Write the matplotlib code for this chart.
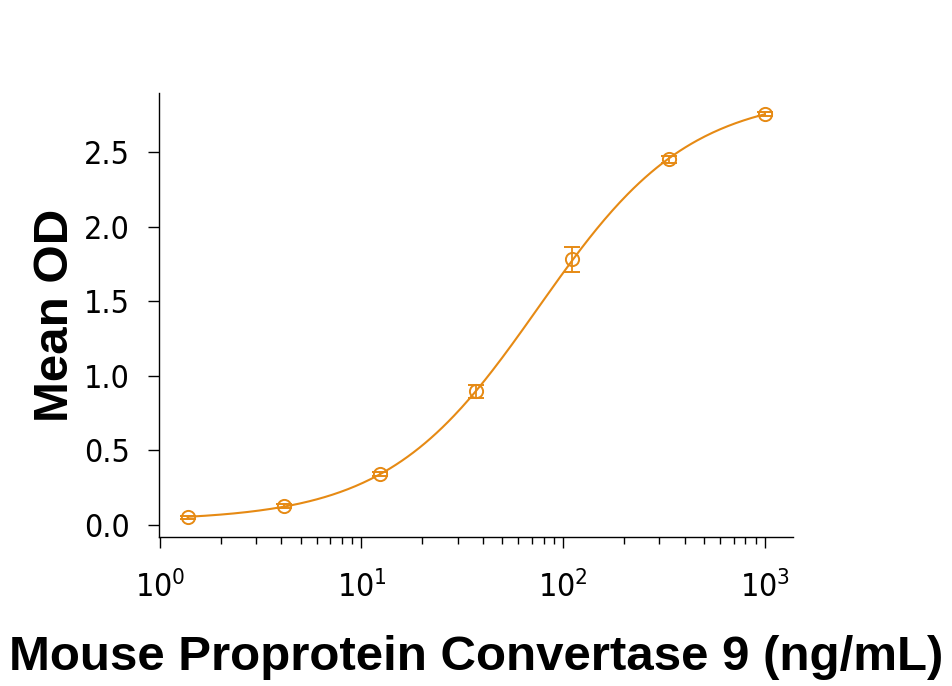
import numpy as np
import matplotlib
matplotlib.use('Agg')
import matplotlib.pyplot as plt
from matplotlib.ticker import FixedLocator, LogLocator, FuncFormatter, NullFormatter

# data (3-fold dilution series)
conc = [1.372, 4.115, 12.35, 37.04, 111.1, 333.3, 1000.0]
mean_od = [0.052, 0.127, 0.342, 0.895, 1.78, 2.45, 2.755]
od_err = [0.010, 0.012, 0.015, 0.045, 0.085, 0.025, 0.015]
y_ticks = [0.0, 0.5, 1.0, 1.5, 2.0, 2.5]

color = '#E68A14'
label_font = ['Liberation Sans', 'Arial', 'DejaVu Sans']

plt.rcParams['mathtext.fontset'] = 'custom'
plt.rcParams['mathtext.rm'] = 'DejaVu Sans:stretch=condensed'
plt.rcParams['mathtext.it'] = 'DejaVu Sans:stretch=condensed'
plt.rcParams['mathtext.bf'] = 'DejaVu Sans:stretch=condensed'


def four_pl(p, x):
    a, b, logc, d = p
    return d + (a - d) / (1.0 + (x / 10**logc)**b)


def fit_four_pl(x, y):
    # small Levenberg-Marquardt loop, numpy only
    x = np.asarray(x)
    y = np.asarray(y)
    p = np.array([0.03, 1.3, 1.9, 2.9])
    lam = 1e-2
    for _ in range(500):
        r = y - four_pl(p, x)
        J = np.zeros((len(x), len(p)))
        for k in range(len(p)):
            dp = np.zeros_like(p)
            dp[k] = 1e-6
            J[:, k] = (four_pl(p + dp, x) - four_pl(p - dp, x)) / 2e-6
        A = J.T @ J
        step = np.linalg.solve(A + lam * np.diag(np.diag(A)), J.T @ r)
        p_new = p + step
        if np.sum((y - four_pl(p_new, x))**2) < np.sum(r**2):
            p = p_new
            lam *= 0.5
        else:
            lam *= 4
    return p


params = fit_four_pl(conc, mean_od)
xs = np.logspace(np.log10(conc[0]), np.log10(conc[-1]), 300)

fig = plt.figure(figsize=(9.53, 6.86), dpi=100)
ax = fig.add_axes([0.1668, 0.2172, 0.6653, 0.6472])

ax.plot(xs, four_pl(params, xs), color=color, lw=1.5, zorder=2)
ax.errorbar(conc, mean_od, yerr=od_err, fmt='o', ms=9.5, mfc='none', mec=color,
            mew=1.4, ecolor=color, elinewidth=1.3, capsize=5.8, capthick=1.3,
            zorder=3)

ax.set_xscale('log')
ax.set_xlim(0.99, 1380)
ax.set_ylim(-0.08, 2.895)

ax.xaxis.set_major_locator(FixedLocator([1, 10, 100, 1000]))
ax.xaxis.set_minor_locator(LogLocator(base=10, subs=np.arange(2, 10)))
ax.xaxis.set_minor_formatter(NullFormatter())
ax.xaxis.set_major_formatter(FuncFormatter(
    lambda v, pos: r'$\mathregular{10^{%d}}$' % round(np.log10(v))))
ax.yaxis.set_major_locator(FixedLocator(y_ticks))
ax.yaxis.set_major_formatter(FuncFormatter(lambda v, pos: '%.1f' % v))

for s in ['top', 'right']:
    ax.spines[s].set_visible(False)
for s in ['left', 'bottom']:
    ax.spines[s].set_linewidth(1.0)

ax.tick_params(axis='both', which='major', direction='out', length=8,
               width=1.0, labelsize=23)
ax.tick_params(axis='x', which='minor', direction='out', length=5, width=1.0)
ax.tick_params(axis='y', which='major', pad=13)
ax.tick_params(axis='x', which='major', pad=17)
for lab in ax.get_yticklabels() + ax.get_xticklabels():
    lab.set_family('DejaVu Sans')
    lab.set_stretch('condensed')

ax.set_xlabel('Mouse Proprotein Convertase 9 (ng/mL)', fontsize=35.5,
              fontweight='bold', family=label_font, labelpad=22)
ax.set_ylabel('Mean OD', fontsize=35.5, fontweight='bold', family=label_font)
ax.yaxis.set_label_coords(-0.128, 0.5)

fig.savefig('out.png', dpi=100)
